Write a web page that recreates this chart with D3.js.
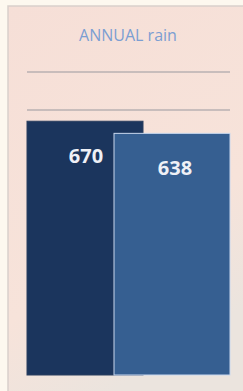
<!DOCTYPE html>
<html>
<head>
<meta charset="utf-8">
<script src="https://cdn.jsdelivr.net/npm/d3@7"></script>
<style>
  html, body { margin: 0; padding: 0; background: #fdf8ef; }
  svg { display: block; }
</style>
</head>
<body>
<div id="chart"></div>
<script>
// chart data
const title = "ANNUAL rain";
const categories = ["A", "B"];
const values = [670, 638];
const gridTicks = [100, 200, 300, 400, 500, 600, 700, 800];
const barColors = ["#1b355d", "#365f91"];

const width = 243, height = 391;
const margin = {top: 6, left: 8};

const svg = d3.select("#chart").append("svg")
    .attr("width", width)
    .attr("height", height);

const defs = svg.append("defs");
const grad = defs.append("linearGradient")
    .attr("id", "panelGrad")
    .attr("x1", 0).attr("y1", 0).attr("x2", 0.4).attr("y2", 1);
grad.append("stop").attr("offset", "0%").attr("stop-color", "#f6dfd7");
grad.append("stop").attr("offset", "70%").attr("stop-color", "#f7e3da");
grad.append("stop").attr("offset", "100%").attr("stop-color", "#ebe4de");

// panel
svg.append("rect")
    .attr("x", margin.left)
    .attr("y", margin.top)
    .attr("width", width)
    .attr("height", height)
    .attr("fill", "url(#panelGrad)")
    .attr("stroke", "#d9cfcb")
    .attr("stroke-width", 1.5);

// scales
const y = d3.scaleLinear().domain([0, 800]).range([375, 72]);
// bars overlap, so inner padding is negative
const x = d3.scaleBand().domain(categories).range([27, 230]).paddingInner(-1 / 3);

// title
svg.append("text")
    .attr("x", 128)
    .attr("y", 41)
    .attr("text-anchor", "middle")
    .attr("font-family", "Open Sans, sans-serif")
    .attr("font-size", 16)
    .attr("fill", "#7b9ed2")
    .text(title);

// gridlines
svg.append("g")
    .selectAll("line")
    .data(gridTicks)
    .join("line")
      .attr("x1", 27)
      .attr("x2", 230)
      .attr("y1", d => y(d))
      .attr("y2", d => y(d))
      .attr("stroke", "#b9b1b2")
      .attr("stroke-width", 1.5);

// bars
svg.append("g")
  .selectAll("rect")
  .data(values)
  .join("rect")
    .attr("x", (d, i) => x(categories[i]))
    .attr("y", d => y(d))
    .attr("width", x.bandwidth())
    .attr("height", d => y(0) - y(d))
    .attr("fill", (d, i) => barColors[i])
    .attr("stroke", (d, i) => i === 0 ? "#2a3f5f" : "#c9d8ee")
    .attr("stroke-width", 1);

// value labels
svg.append("g")
  .selectAll("text")
  .data(values)
  .join("text")
    .attr("x", (d, i) => x(categories[i]) + x.bandwidth() / 2 + (i === 0 ? 1 : 3))
    .attr("y", d => y(d) + 42)
    .attr("text-anchor", "middle")
    .attr("font-family", "Open Sans, sans-serif")
    .attr("font-weight", "bold")
    .attr("font-size", 20)
    .attr("fill", "#eef0f6")
    .text(d => d);
</script>
</body>
</html>
